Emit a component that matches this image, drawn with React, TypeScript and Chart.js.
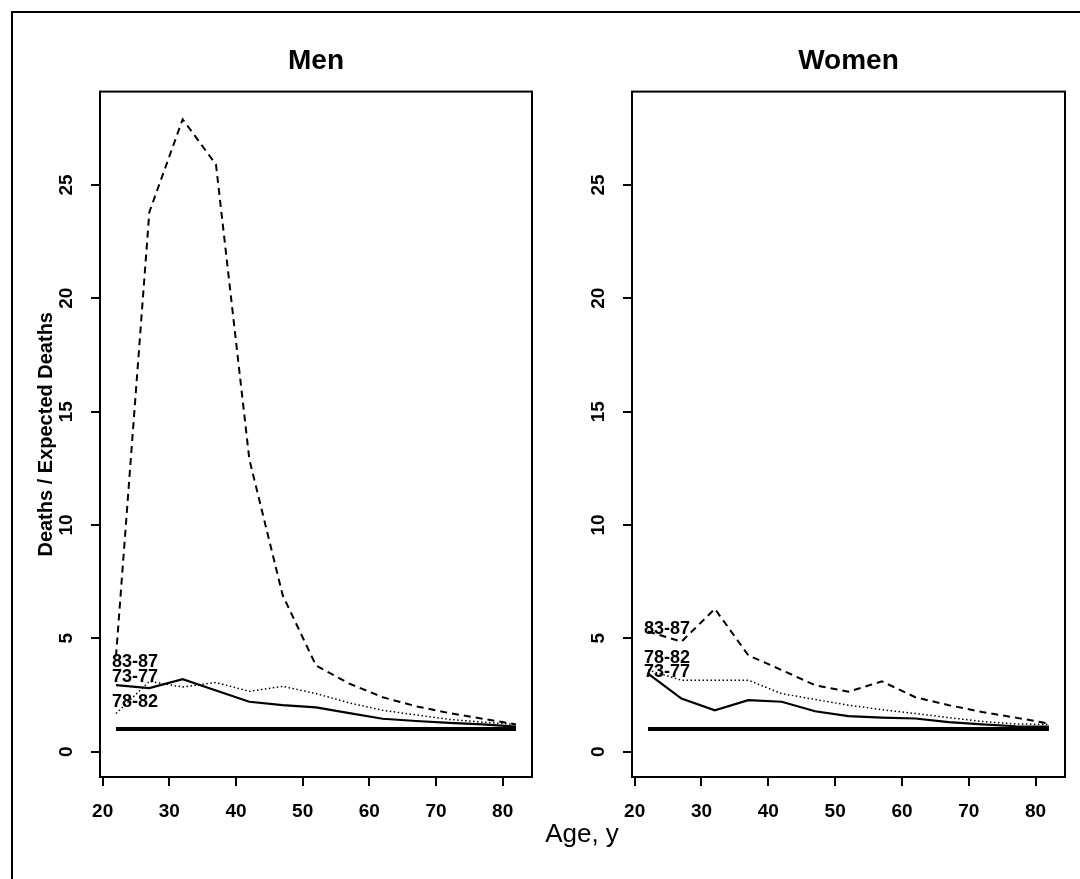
import React, { useEffect, useRef } from "react";
import { Chart, registerables } from "chart.js";

Chart.register(...registerables);

// ---------- data ----------
const ages = [22, 27, 32, 37, 42, 47, 52, 57, 62, 67, 72, 77, 82];

const men8387 = [4.2, 23.8, 27.9, 25.9, 12.9, 6.9, 3.8, 3.0, 2.4, 2.0, 1.7, 1.45, 1.2];
const men7882 = [1.68, 3.1, 2.85, 3.05, 2.66, 2.88, 2.56, 2.15, 1.82, 1.62, 1.42, 1.3, 1.2];
const men7377 = [2.93, 2.8, 3.2, 2.7, 2.2, 2.05, 1.95, 1.7, 1.45, 1.35, 1.27, 1.2, 1.1];

const women8387 = [5.3, 4.85, 6.3, 4.25, 3.6, 2.93, 2.64, 3.1, 2.4, 2.05, 1.75, 1.5, 1.24];
const women7882 = [3.6, 3.15, 3.15, 3.15, 2.56, 2.3, 2.05, 1.85, 1.68, 1.5, 1.33, 1.22, 1.2];
const women7377 = [3.44, 2.34, 1.82, 2.27, 2.2, 1.78, 1.57, 1.5, 1.46, 1.3, 1.2, 1.12, 1.1];

const expected = [1, 1, 1, 1, 1, 1, 1, 1, 1, 1, 1, 1, 1];

const periods = ["83-87", "78-82", "73-77"];
const menPeriodLabelY = [3.97, 2.2, 3.3];
const womenPeriodLabelY = [5.43, 4.15, 3.53];
const periodLabelAge = 21.4;

const xTicks = [20, 30, 40, 50, 60, 70, 80];
const yTicks = [0, 5, 10, 15, 20, 25];
const xMin = 19.6;
const xMax = 84.4;
const yMin = -1.12;
const yMax = 29.12;

// ---------- styles ----------
const FONT = "'Liberation Sans', Arial, Helvetica, sans-serif";

const pts = (vals: number[]) => ages.map((a, i) => ({ x: a, y: vals[i] }));

const boxPlugin = {
  id: "boxPlugin",
  afterDraw(chart: any) {
    const { ctx, chartArea } = chart;
    ctx.save();
    ctx.strokeStyle = "#000";
    ctx.lineWidth = 2;
    ctx.strokeRect(chartArea.left, chartArea.top, chartArea.right - chartArea.left, chartArea.bottom - chartArea.top);
    ctx.restore();
  },
};

const periodLabelPlugin = {
  id: "periodLabelPlugin",
  afterDatasetsDraw(chart: any, _args: any, opts: any) {
    const { ctx, scales } = chart;
    const ys: number[] = opts.ys || [];
    ctx.save();
    ctx.fillStyle = "#000";
    ctx.font = `bold 18px ${FONT}`;
    ctx.textAlign = "left";
    ctx.textBaseline = "middle";
    periods.forEach((p, i) => {
      const x = scales.x.getPixelForValue(periodLabelAge);
      const y = scales.y.getPixelForValue(ys[i]);
      ctx.fillText(p, x, y);
    });
    ctx.restore();
  },
};

function makeConfig(
  title: string,
  s8387: number[],
  s7882: number[],
  s7377: number[],
  labelYs: number[],
  yAxisWidth: number,
  padRight: number,
  showYTitle: boolean
): any {
  return {
    type: "line",
    data: {
      datasets: [
        {
          label: "83-87",
          data: pts(s8387),
          borderColor: "#000",
          borderWidth: 2,
          borderDash: [7, 5],
          pointRadius: 0,
          tension: 0,
          fill: false,
        },
        {
          label: "78-82",
          data: pts(s7882),
          borderColor: "#000",
          borderWidth: 1.5,
          borderDash: [1.5, 2.5],
          pointRadius: 0,
          tension: 0,
          fill: false,
        },
        {
          label: "73-77",
          data: pts(s7377),
          borderColor: "#000",
          borderWidth: 2.2,
          pointRadius: 0,
          tension: 0,
          fill: false,
        },
        {
          label: "Expected",
          data: pts(expected),
          borderColor: "#000",
          borderWidth: 4,
          pointRadius: 0,
          tension: 0,
          fill: false,
        },
      ],
    },
    options: {
      animation: false,
      responsive: false,
      maintainAspectRatio: false,
      layout: { padding: { left: 0, right: padRight, top: 0, bottom: 0 } },
      plugins: {
        legend: { display: false },
        tooltip: { enabled: false },
        title: {
          display: true,
          text: title,
          color: "#000",
          fullSize: false,
          font: { family: FONT, size: 28, weight: "bold" },
          padding: { top: 44, bottom: 14 },
        },
        periodLabelPlugin: { ys: labelYs },
      },
      scales: {
        x: {
          type: "linear",
          min: xMin,
          max: xMax,
          afterBuildTicks: (s: any) => {
            s.ticks = xTicks.map((v) => ({ value: v }));
          },
          afterFit: (s: any) => {
            s.height = 102;
          },
          grid: {
            display: true,
            drawOnChartArea: false,
            drawTicks: true,
            tickLength: 9,
            color: "#000",
            lineWidth: 2,
          },
          border: { display: false },
          ticks: {
            color: "#000",
            font: { family: FONT, size: 19, weight: "bold" },
            padding: 14,
            minRotation: 0,
            maxRotation: 0,
            autoSkip: false,
          },
        },
        y: {
          type: "linear",
          min: yMin,
          max: yMax,
          afterBuildTicks: (s: any) => {
            s.ticks = yTicks.map((v) => ({ value: v }));
          },
          afterFit: (s: any) => {
            s.width = yAxisWidth;
          },
          grid: {
            display: true,
            drawOnChartArea: false,
            drawTicks: true,
            tickLength: 9,
            color: "#000",
            lineWidth: 2,
          },
          border: { display: false },
          ticks: {
            color: "#000",
            font: { family: FONT, size: 19, weight: "bold" },
            padding: 14,
            minRotation: 90,
            maxRotation: 90,
            crossAlign: "center",
            autoSkip: false,
          },
          title: {
            display: showYTitle,
            text: "Deaths / Expected Deaths",
            color: "#000",
            font: { family: FONT, size: 20, weight: "bold" },
            padding: { top: 34, bottom: 0 },
          },
        },
      },
    },
    plugins: [boxPlugin, periodLabelPlugin],
  };
}

function Panel(props: { left: number; width: number; cfg: () => any }) {
  const ref = useRef<HTMLCanvasElement | null>(null);
  useEffect(() => {
    if (!ref.current) return;
    const chart = new Chart(ref.current, props.cfg());
    return () => chart.destroy();
  }, []);
  return (
    <canvas
      ref={ref}
      width={props.width}
      height={879}
      style={{ position: "absolute", left: props.left, top: 0, width: props.width, height: 879 }}
    />
  );
}

export default function App() {
  return (
    <div
      style={{
        position: "absolute",
        left: 0,
        top: 0,
        width: 1080,
        height: 879,
        background: "#fff",
        overflow: "hidden",
      }}
    >
      <div
        style={{
          position: "absolute",
          left: 11,
          top: 11,
          width: 1069,
          height: 868,
          borderTop: "2px solid #000",
          borderLeft: "2px solid #000",
          boxSizing: "border-box",
        }}
      />
      <Panel
        left={0}
        width={560}
        cfg={() => makeConfig("Men", men8387, men7882, men7377, menPeriodLabelY, 100, 28, true)}
      />
      <Panel
        left={560}
        width={520}
        cfg={() => makeConfig("Women", women8387, women7882, women7377, womenPeriodLabelY, 72, 15, false)}
      />
      <div
        style={{
          position: "absolute",
          left: 382,
          top: 820,
          width: 400,
          textAlign: "center",
          fontFamily: FONT,
          fontSize: 26,
          lineHeight: "26px",
          color: "#000",
        }}
      >
        Age, y
      </div>
    </div>
  );
}
